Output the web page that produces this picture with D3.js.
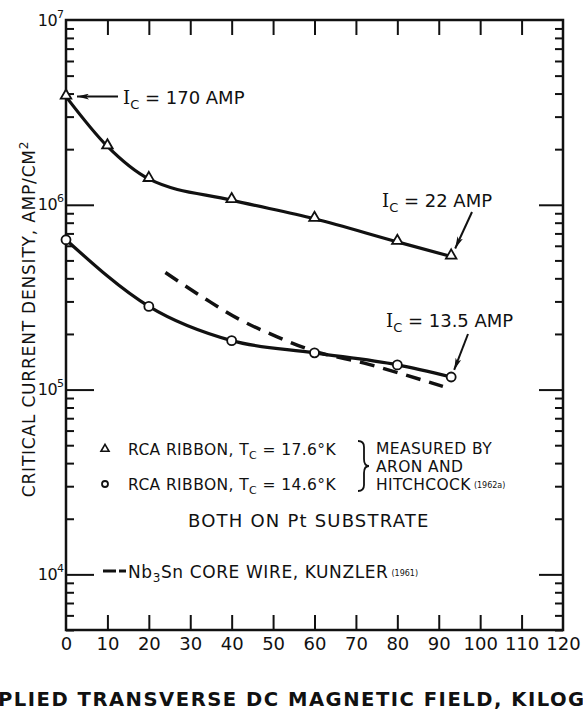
<!DOCTYPE html>
<html>
<head>
<meta charset="utf-8">
<script src="https://cdn.jsdelivr.net/npm/d3@7"></script>
<style>
  html, body { margin: 0; padding: 0; background: #fff; }
  svg { display: block; }
  text { font-family: "DejaVu Sans", sans-serif; fill: #111; }
</style>
</head>
<body>
<script>
// ---------------- data ----------------
const fieldA = [0, 10, 20, 40, 60, 80, 93];                       // kG, RCA ribbon Tc=17.6K (triangles)
const jcA    = [3.85e6, 2.07e6, 1.38e6, 1.06e6, 8.4e5, 6.3e5, 5.25e5];
const fieldB = [0, 20, 40, 60, 80, 93];                           // RCA ribbon Tc=14.6K (circles)
const jcB    = [6.47e5, 2.82e5, 1.84e5, 1.58e5, 1.36e5, 1.17e5];
const fieldK = [24, 34, 42, 51, 59, 72, 91];                      // Nb3Sn core wire, Kunzler (dashed)
const jcK    = [4.3e5, 3.06e5, 2.39e5, 1.93e5, 1.64e5, 1.39e5, 1.04e5];
const xTicks = [0, 10, 20, 30, 40, 50, 60, 70, 80, 90, 100, 110, 120];
const yMajor = [1e4, 1e5, 1e6, 1e7];
const yExpLabels = ["4", "5", "6", "7"];
const xTitle = "APPLIED TRANSVERSE DC MAGNETIC FIELD, KILOGAUSS";
const yTitle = "CRITICAL CURRENT DENSITY, AMP/CM";

// ---------------- layout ----------------
const W = 583, H = 710;
const L = 66, R = 563, T = 20, B = 630;
const x = d3.scaleLinear().domain([0, 120]).range([L, R]);
const y = d3.scaleLog().domain([5000, 1e7]).range([B, T]);

const svg = d3.select("body").append("svg").attr("width", W).attr("height", H);
svg.append("rect").attr("width", W).attr("height", H).attr("fill", "#fff");

// minor log ticks
const yMinor = [];
for (let d = 3; d <= 6; d++) for (let k = 2; k <= 9; k++) {
  const v = k * Math.pow(10, d);
  if (v >= 5000 && v < 1e7) yMinor.push(v);
}
const yMajorInner = yMajor.filter(v => v < 1e7);
const innerX = xTicks.filter(v => v > 0 && v < 120);

function styleAxis(g) {
  g.select(".domain").remove();
  g.selectAll(".tick line").attr("stroke", "#111").attr("stroke-width", 2);
}
// left axis ticks (inside)
svg.append("g").attr("transform", `translate(${L},0)`)
  .call(d3.axisRight(y).tickValues(yMinor).tickSize(8).tickFormat("")).call(styleAxis);
svg.append("g").attr("transform", `translate(${L},0)`)
  .call(d3.axisRight(y).tickValues(yMajorInner).tickSize(28).tickFormat("")).call(styleAxis);
// right axis ticks (inside)
svg.append("g").attr("transform", `translate(${R},0)`)
  .call(d3.axisLeft(y).tickValues(yMinor).tickSize(8).tickFormat("")).call(styleAxis);
svg.append("g").attr("transform", `translate(${R},0)`)
  .call(d3.axisLeft(y).tickValues(yMajorInner).tickSize(24).tickFormat("")).call(styleAxis);
// top and bottom ticks (inside)
svg.append("g").attr("transform", `translate(0,${T})`)
  .call(d3.axisBottom(x).tickValues(innerX).tickSize(15).tickFormat("")).call(styleAxis);
svg.append("g").attr("transform", `translate(0,${B})`)
  .call(d3.axisTop(x).tickValues(innerX).tickSize(15).tickFormat("")).call(styleAxis);

// x tick labels
const xl = svg.append("g").attr("transform", `translate(0,${B})`)
  .call(d3.axisBottom(x).tickValues(xTicks).tickSize(0).tickPadding(7).tickFormat(d3.format("d")));
xl.select(".domain").remove();
xl.selectAll("text").attr("font-size", 18).attr("font-family", "DejaVu Sans, sans-serif").attr("fill", "#111");

// y tick labels (10^n)
const yl = svg.append("g").attr("transform", `translate(${L},0)`)
  .call(d3.axisLeft(y).tickValues(yMajor).tickSize(0).tickFormat(""));
yl.select(".domain").remove();
yl.selectAll(".tick").each(function(d, i) {
  const t = d3.select(this).append("text")
    .attr("x", -2).attr("y", 5).attr("text-anchor", "end")
    .attr("font-size", 16).attr("letter-spacing", -0.6).attr("fill", "#111");
  t.append("tspan").text("10");
  t.append("tspan").attr("dy", -8).attr("font-size", 11).attr("letter-spacing", 0).text(yExpLabels[i]);
});

// frame
svg.append("rect").attr("x", L).attr("y", T).attr("width", R - L).attr("height", B - T)
  .attr("fill", "none").attr("stroke", "#111").attr("stroke-width", 2.5);

// ---------------- series ----------------
const line = d3.line().x(d => x(d[0])).y(d => y(d[1])).curve(d3.curveMonotoneX);
const A = fieldA.map((f, i) => [f, jcA[i]]);
const Bs = fieldB.map((f, i) => [f, jcB[i]]);
const K = fieldK.map((f, i) => [f, jcK[i]]);

svg.append("path").datum(K).attr("d", line).attr("fill", "none")
  .attr("stroke", "#111").attr("stroke-width", 3.5).attr("stroke-dasharray", "15,9");
svg.append("path").datum(A).attr("d", line).attr("fill", "none")
  .attr("stroke", "#111").attr("stroke-width", 3.2);
svg.append("path").datum(Bs).attr("d", line).attr("fill", "none")
  .attr("stroke", "#111").attr("stroke-width", 3.2);

const tri = d3.symbol().type(d3.symbolTriangle).size(48);
svg.append("g").selectAll("path").data(A).join("path")
  .attr("d", tri).attr("transform", d => `translate(${x(d[0])},${y(d[1]) - 1})`)
  .attr("fill", "#fff").attr("stroke", "#111").attr("stroke-width", 1.8);
svg.append("g").selectAll("circle").data(Bs).join("circle")
  .attr("cx", d => x(d[0])).attr("cy", d => y(d[1])).attr("r", 4.5)
  .attr("fill", "#fff").attr("stroke", "#111").attr("stroke-width", 1.8);

// ---------------- annotations ----------------
const defs = svg.append("defs");
defs.append("marker").attr("id", "ah").attr("viewBox", "0 0 12 6")
  .attr("refX", 12).attr("refY", 3).attr("markerWidth", 12).attr("markerHeight", 6)
  .attr("markerUnits", "userSpaceOnUse").attr("orient", "auto")
  .append("path").attr("d", "M0,0 L12,3 L0,6 L3,3 Z").attr("fill", "#111");

function arrow(x1, y1, x2, y2) {
  svg.append("line").attr("x1", x1).attr("y1", y1).attr("x2", x2).attr("y2", y2)
    .attr("stroke", "#111").attr("stroke-width", 2).attr("marker-end", "url(#ah)");
}
function icLabel(xp, yp, val) {
  const t = svg.append("text").attr("x", xp).attr("y", yp).attr("font-size", 18);
  t.append("tspan").attr("font-family", "DejaVu Serif, serif").text("I");
  t.append("tspan").attr("dy", 5).attr("font-size", 13).text("C");
  t.append("tspan").attr("dy", -5).text(" = " + val + " AMP");
}
const pA0 = A[0], pAend = A[A.length - 1], pBend = Bs[Bs.length - 1];
arrow(x(pA0[0]) + 52, y(pA0[1]), x(pA0[0]) + 11, y(pA0[1]));
icLabel(123, 104, "170");
arrow(472, 212, x(pAend[0]) + 4, y(pAend[1]) - 8);
icLabel(382, 207, "22");
arrow(468, 334, x(pBend[0]) + 3, y(pBend[1]) - 7);
icLabel(386, 327, "13.5");

// ---------------- legend ----------------
const lg = svg.append("g");
const fs = 15.5;
lg.append("path").attr("d", tri.size(28)()).attr("transform", "translate(105,449)")
  .attr("fill", "none").attr("stroke", "#111").attr("stroke-width", 1.6);
lg.append("circle").attr("cx", 105).attr("cy", 484).attr("r", 3)
  .attr("fill", "none").attr("stroke", "#111").attr("stroke-width", 1.8);

function ribbon(yp, tc) {
  const t = lg.append("text").attr("x", 128).attr("y", yp).attr("font-size", fs).attr("letter-spacing", 0.4);
  t.append("tspan").text("RCA RIBBON, T");
  t.append("tspan").attr("dy", 4).attr("font-size", 11).text("C");
  t.append("tspan").attr("dy", -4).text(" = " + tc + "°K");
}
ribbon(455, "17.6");
ribbon(490, "14.6");
lg.append("path").attr("d", "M358,441 q6,0 6,6 v12 q0,7 5,7 q-5,0 -5,7 v12 q0,6 -6,6")
  .attr("fill", "none").attr("stroke", "#111").attr("stroke-width", 1.8);
lg.append("text").attr("x", 376).attr("y", 454).attr("font-size", fs).attr("letter-spacing", 0.4).text("MEASURED BY");
lg.append("text").attr("x", 376).attr("y", 472).attr("font-size", fs).attr("letter-spacing", 0.4).text("ARON AND");
const hc = lg.append("text").attr("x", 376).attr("y", 490).attr("font-size", fs).attr("letter-spacing", 0.4);
hc.append("tspan").text("HITCHCOCK");
hc.append("tspan").attr("font-size", 8).attr("dx", 3).attr("dy", -2).attr("letter-spacing", 0).text("(1962a)");
lg.append("text").attr("x", 188).attr("y", 527).attr("font-size", 18)
  .attr("letter-spacing", 1.2).text("BOTH ON Pt SUBSTRATE");
lg.append("line").attr("x1", 103).attr("x2", 116).attr("y1", 571).attr("y2", 571)
  .attr("stroke", "#111").attr("stroke-width", 3);
lg.append("line").attr("x1", 119).attr("x2", 126).attr("y1", 571).attr("y2", 571)
  .attr("stroke", "#111").attr("stroke-width", 3);
const kz = lg.append("text").attr("x", 128).attr("y", 578).attr("font-size", 17).attr("letter-spacing", 0.6);
kz.append("tspan").text("Nb");
kz.append("tspan").attr("dy", 4).attr("font-size", 12).text("3");
kz.append("tspan").attr("dy", -4).text("Sn CORE WIRE, KUNZLER");
kz.append("tspan").attr("font-size", 8).attr("dx", 3).attr("dy", -2).attr("letter-spacing", 0).text("(1961)");

// ---------------- axis titles ----------------
const yt = svg.append("text").attr("transform", "translate(35,319) rotate(-90)")
  .attr("text-anchor", "middle").attr("font-size", 17).attr("letter-spacing", 0.8);
yt.append("tspan").text(yTitle);
yt.append("tspan").attr("dy", -7).attr("font-size", 12).text("2");

const xt = svg.append("text").attr("y", 706).attr("font-size", 19).attr("font-weight", "bold")
  .attr("letter-spacing", 1.5).text(xTitle);
const node = xt.node();
const visStr = "PLIED TRANSVERSE DC MAGNETIC FIELD, KILOG";
const vis = node.getSubStringLength(2, visStr.length);
const scale = 590 / vis;
xt.attr("font-size", 19 * scale);
const w0 = node.getSubStringLength(0, 2);
xt.attr("x", -2 - w0);
</script>
</body>
</html>
